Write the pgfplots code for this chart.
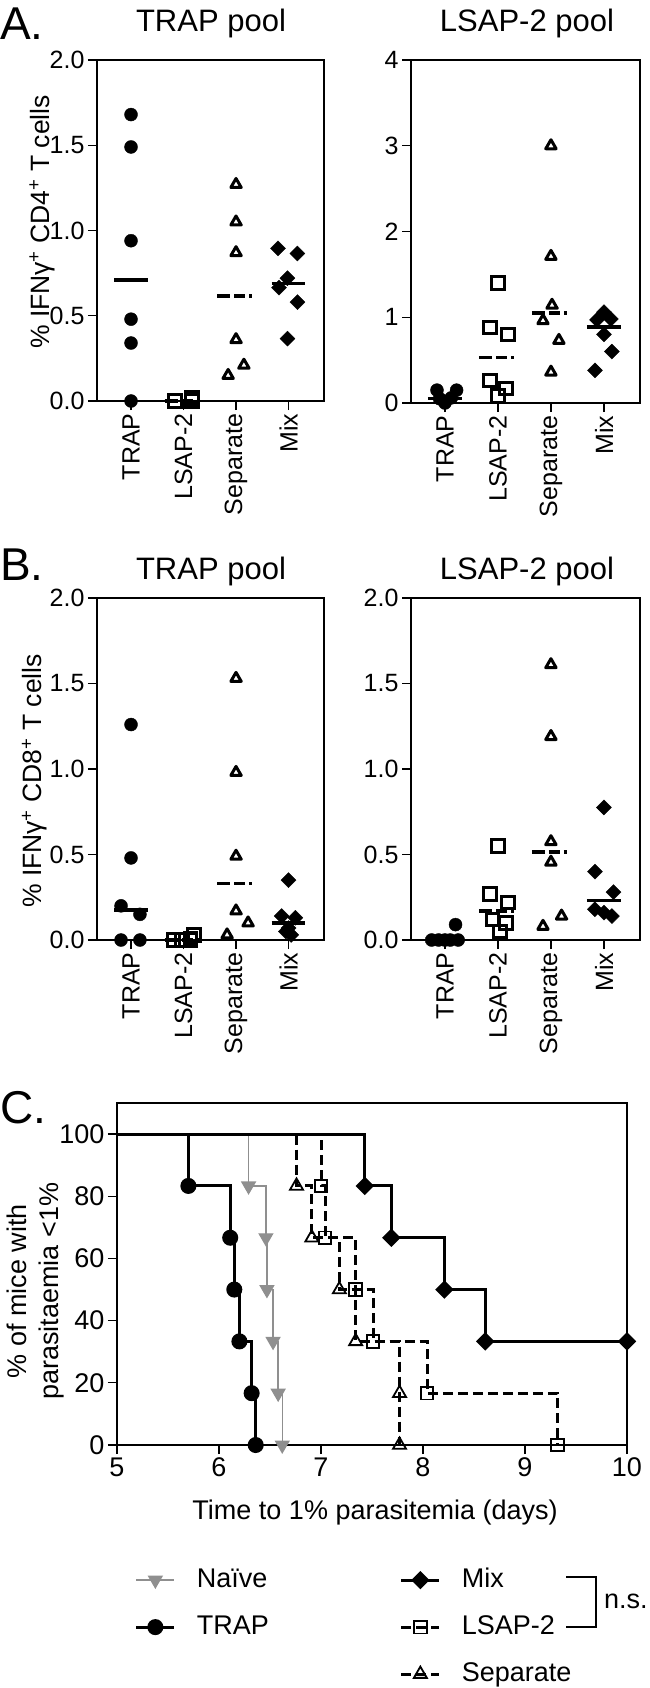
\documentclass[border=0pt]{standalone}
\usepackage{fontspec}
\setmainfont{Liberation Sans}
\usepackage{pgfplots}
\pgfplotsset{compat=1.18}
\definecolor{naigray}{HTML}{8F8F8F}

\newcommand{\tickf}{\fontsize{25}{25}\selectfont}
\newcommand{\labf}{\fontsize{26.5}{26.5}\selectfont}
\newcommand{\titf}{\fontsize{31}{31}\selectfont}
\newcommand{\letf}{\fontsize{46}{46}\selectfont}
\newcommand{\legf}{\fontsize{27}{27}\selectfont}

\pgfplotsset{
  catax/.style={scale only axis, clip=false, enlargelimits=false, ymin=0,
    xtick={0,1,2,3}, xticklabels={TRAP,LSAP-2,Separate,Mix},
    xticklabel style={rotate=90, anchor=east, font=\tickf},
    yticklabel style={font=\tickf},
    tick align=outside, xtick pos=bottom, ytick pos=left,
    major tick length=9pt,
    every tick/.style={black, line width=1.3pt},
    axis line style={line width=1.3pt},
    /pgf/number format/assume math mode=true,
    ylabel style={font=\labf, anchor=center}},
  dec1/.style={yticklabel style={/pgf/number format/fixed,
    /pgf/number format/fixed zerofill, /pgf/number format/precision=1}},
  mtrap/.style={only marks, mark=*, mark size=6.5pt, black},
  mlsap/.style={only marks, mark=square, mark size=6.2pt, black, line width=3pt,
    mark options={fill=white}},
  msep/.style={only marks, mark=triangle, mark size=6pt, black, line width=3pt,
    line join=round, mark options={fill=white}},
  mmix/.style={only marks, mark=square*, mark size=5.3pt, black, mark options={rotate=45}},
  meds/.style={black, line width=3.5pt, no marks},
  medd/.style={black, line width=3.5pt, no marks,
    dash pattern=on 13pt off 4pt on 11pt off 4pt on 3pt off 20pt},
  knai/.style={color=naigray, line width=1.4pt, mark=triangle*, mark size=7.5pt,
    mark options={rotate=180, fill=naigray}},
  ktrap/.style={black, line width=3pt, mark=*, mark size=6.5pt},
  kmix/.style={black, line width=3pt, mark=square*, mark size=5pt,
    mark options={rotate=45}},
  klsap/.style={black, line width=3pt, dash pattern=on 10pt off 5pt, mark=square,
    mark size=6.3pt, mark options={solid, fill=white, line width=1.8pt}},
  ksep/.style={black, line width=3pt, dash pattern=on 10pt off 5pt, mark=triangle,
    mark size=7.5pt, mark options={solid, fill=white, line width=1.8pt}},
}

\begin{document}
\begin{tikzpicture}
\useasboundingbox (0,0) rectangle (650pt,-1688pt);

% panel letters and titles
\node[anchor=base west, font=\letf, inner sep=0pt] at (0pt,-40pt) {A.};
\node[anchor=base west, font=\letf, inner sep=0pt] at (0pt,-580pt) {B.};
\node[anchor=base west, font=\letf, inner sep=0pt] at (0pt,-1123pt) {C.};
\node[anchor=base, font=\titf, inner sep=0pt] at (211pt,-32pt) {TRAP pool};
\node[anchor=base, font=\titf, inner sep=0pt] at (527pt,-32pt) {LSAP-2 pool};
\node[anchor=base, font=\titf, inner sep=0pt] at (211pt,-579pt) {TRAP pool};
\node[anchor=base, font=\titf, inner sep=0pt] at (527pt,-579pt) {LSAP-2 pool};

% A, TRAP pool
\begin{axis}[catax, dec1, at={(97pt,-401pt)}, anchor=south west,
  width=227pt, height=341pt, xmin=-0.648, xmax=3.676, ymax=2, ytick={0,0.5,...,2},
  ylabel={\% IFNγ\textsuperscript{+} CD4\textsuperscript{+} T cells},
  ylabel style={at={(axis description cs:-0.242,0.525)}}]
\addplot[mtrap] coordinates {(0,1.68) (0,1.49) (0,0.94) (0,0.48) (0,0.34) (0,0)};
\addplot[mlsap] coordinates {(0.84,0) (0.84,0) (0.84,0) (1.16,0.02) (1.16,0.01) (1.16,0)};
\addplot[msep] coordinates {(2,1.27) (2,1.05) (2,0.87) (2,0.36) (2.15,0.21) (1.85,0.15)};
\addplot[mmix] coordinates {(2.8,0.895) (3.17,0.865) (2.98,0.72) (2.82,0.665) (3.17,0.58) (2.98,0.366)};
\addplot[meds] coordinates {(-0.32,0.71) (0.32,0.71)};
\addplot[medd] coordinates {(0.64,0) (1.36,0)};
\addplot[medd] coordinates {(1.64,0.615) (2.36,0.615)};
\addplot[meds] coordinates {(2.68,0.69) (3.32,0.69)};
\end{axis}

% A, LSAP-2 pool
\begin{axis}[catax, at={(411pt,-403pt)}, anchor=south west,
  width=229pt, height=343pt, xmin=-0.64, xmax=3.68, ymax=4, ytick={0,1,2,3,4}]
\addplot[mtrap] coordinates {(-0.15,0.15) (0.22,0.15) (-0.1,0.05) (0.12,0.06) (0,0.02) (0,0)};
\addplot[mlsap] coordinates {(1.0,1.40) (0.85,0.88) (1.19,0.80) (0.85,0.26) (1.15,0.17) (1.0,0.08)};
\addplot[msep] coordinates {(2.0,3.00) (2.0,1.71) (2.02,1.14) (1.85,0.96) (2.15,0.73) (2.0,0.36)};
\addplot[mmix] coordinates {(3.0,1.06) (2.87,0.97) (3.13,0.98) (3.0,0.80) (3.15,0.60) (2.83,0.38)};
\addplot[meds] coordinates {(-0.32,0.055) (0.32,0.055)};
\addplot[medd] coordinates {(0.64,0.53) (1.36,0.53)};
\addplot[medd] coordinates {(1.64,1.05) (2.36,1.05)};
\addplot[meds] coordinates {(2.68,0.885) (3.32,0.885)};
\end{axis}

% B, TRAP pool
\begin{axis}[catax, dec1, at={(97pt,-940pt)}, anchor=south west,
  width=227pt, height=342pt, xmin=-0.648, xmax=3.676, ymax=2, ytick={0,0.5,...,2},
  ylabel={\% IFNγ\textsuperscript{+} CD8\textsuperscript{+} T cells},
  ylabel style={at={(axis description cs:-0.275,0.465)}}]
\addplot[mtrap] coordinates {(0,1.26) (0,0.48) (-0.19,0.2) (0.17,0.15) (-0.19,0) (0.17,0)};
\addplot[mlsap] coordinates {(0.81,0) (0.81,0) (1.13,0) (1.13,0.01) (1.2,0.03) (0.97,0)};
\addplot[msep] coordinates {(2,1.53) (2,0.98) (2,0.49) (2,0.17) (2.23,0.10) (1.83,0.03)};
\addplot[mmix] coordinates {(3,0.35) (2.87,0.14) (3.13,0.13) (3.0,0.07) (2.95,0.05) (3.05,0.03)};
\addplot[meds] coordinates {(-0.32,0.175) (0.32,0.175)};
\addplot[medd] coordinates {(0.64,0) (1.36,0)};
\addplot[medd] coordinates {(1.64,0.33) (2.36,0.33)};
\addplot[meds] coordinates {(2.68,0.1) (3.32,0.1)};
\end{axis}

% B, LSAP-2 pool
\begin{axis}[catax, dec1, at={(411pt,-940pt)}, anchor=south west,
  width=229pt, height=342pt, xmin=-0.64, xmax=3.68, ymax=2, ytick={0,0.5,...,2}]
\addplot[mtrap] coordinates {(-0.25,0) (-0.12,0) (0,0) (0.1,0) (0.25,0) (0.2,0.09)};
\addplot[mlsap] coordinates {(1.0,0.55) (0.85,0.27) (1.19,0.22) (0.9,0.12) (1.15,0.10) (1.04,0.05)};
\addplot[msep] coordinates {(2.0,1.61) (2.0,1.19) (2.0,0.575) (2.0,0.455) (2.2,0.14) (1.85,0.08)};
\addplot[mmix] coordinates {(3.0,0.775) (2.83,0.40) (3.18,0.28) (2.83,0.18) (3.0,0.16) (3.15,0.14)};
\addplot[meds] coordinates {(-0.32,0) (0.32,0)};
\addplot[medd] coordinates {(0.64,0.17) (1.36,0.17)};
\addplot[medd] coordinates {(1.64,0.515) (2.36,0.515)};
\addplot[meds] coordinates {(2.68,0.23) (3.32,0.23)};
\end{axis}

% C, survival curves
\begin{axis}[scale only axis, clip=false, at={(117pt,-1445pt)}, anchor=south west,
  width=510pt, height=342pt, xmin=5, xmax=10, ymin=0, ymax=110,
  xtick={5,...,10}, ytick={0,20,...,100},
  tick label style={font=\fontsize{27}{27}\selectfont},
  tick align=outside, xtick pos=bottom, ytick pos=left, major tick length=9pt,
  every tick/.style={black, line width=1.3pt},
  axis line style={line width=1.3pt},
  /pgf/number format/assume math mode=true,
  xlabel={Time to 1\% parasitemia (days)},
  xlabel style={font=\fontsize{27}{27}\selectfont, at={(axis description cs:0.506,-0.196)}, anchor=center},
  ylabel={\% of mice with\\parasitaemia <1\%},
  ylabel style={font=\fontsize{27}{32}\selectfont, align=center, at={(axis description cs:-0.16,0.45)}, anchor=center},
  legend columns=2,
  legend style={at={(rel axis cs:0.035,-0.357)}, anchor=north west, draw=none, fill=none,
    inner sep=0pt, outer sep=0pt, font=\legf, row sep=21pt,
    nodes={inner sep=0pt, text height=20pt, text depth=6pt},
    /tikz/every odd column/.append style={column sep=21pt},
    /tikz/every even column/.append style={column sep=131pt}},
  legend cell align=left,
  legend image code/.code={\draw[mark repeat=2, mark phase=2, #1] plot coordinates {(0pt,0pt) (19pt,0pt) (38pt,0pt)};}]
\addplot[ksep, const plot, mark indices={2,3,4,5,6,7}, forget plot] coordinates
  {(5,100) (6.76,83.33) (6.91,66.67) (7.18,50) (7.34,33.33) (7.77,16.67) (7.77,0)};
\addplot[klsap, const plot, mark indices={2,3,4,5,6,7}, forget plot] coordinates
  {(5,100) (7.00,83.33) (7.04,66.67) (7.34,50) (7.51,33.33) (8.04,16.67) (9.32,0)};
\addplot[knai, const plot, mark indices={2,3,4,5,6,7}, forget plot] coordinates
  {(5,100) (6.29,83.33) (6.46,66.67) (6.47,50) (6.53,33.33) (6.58,16.67) (6.62,0)};
\addplot[ktrap, const plot, mark indices={2,3,4,5,6,7}, forget plot] coordinates
  {(5,100) (5.70,83.33) (6.11,66.67) (6.15,50) (6.20,33.33) (6.32,16.67) (6.36,0)};
\addplot[kmix, const plot, mark indices={2,3,4,5,6}, forget plot] coordinates
  {(5,100) (7.43,83.33) (7.69,66.67) (8.21,50) (8.61,33.33) (10,33.33)};
\addlegendimage{knai}\addlegendentry{Naïve}
\addlegendimage{kmix}\addlegendentry{Mix}
\addlegendimage{ktrap}\addlegendentry{TRAP}
\addlegendimage{klsap}\addlegendentry{LSAP-2}
\addlegendimage{empty legend}\addlegendentry{}
\addlegendimage{ksep}\addlegendentry{Separate}
\end{axis}

% bracket for n.s.
\draw[line width=1.3pt] (566pt,-1577pt) -- (596pt,-1577pt) -- (596pt,-1627pt) -- (566pt,-1627pt);
\node[anchor=west, font=\legf, inner sep=0pt] at (604pt,-1601pt) {n.s.};
\end{tikzpicture}
\end{document}
